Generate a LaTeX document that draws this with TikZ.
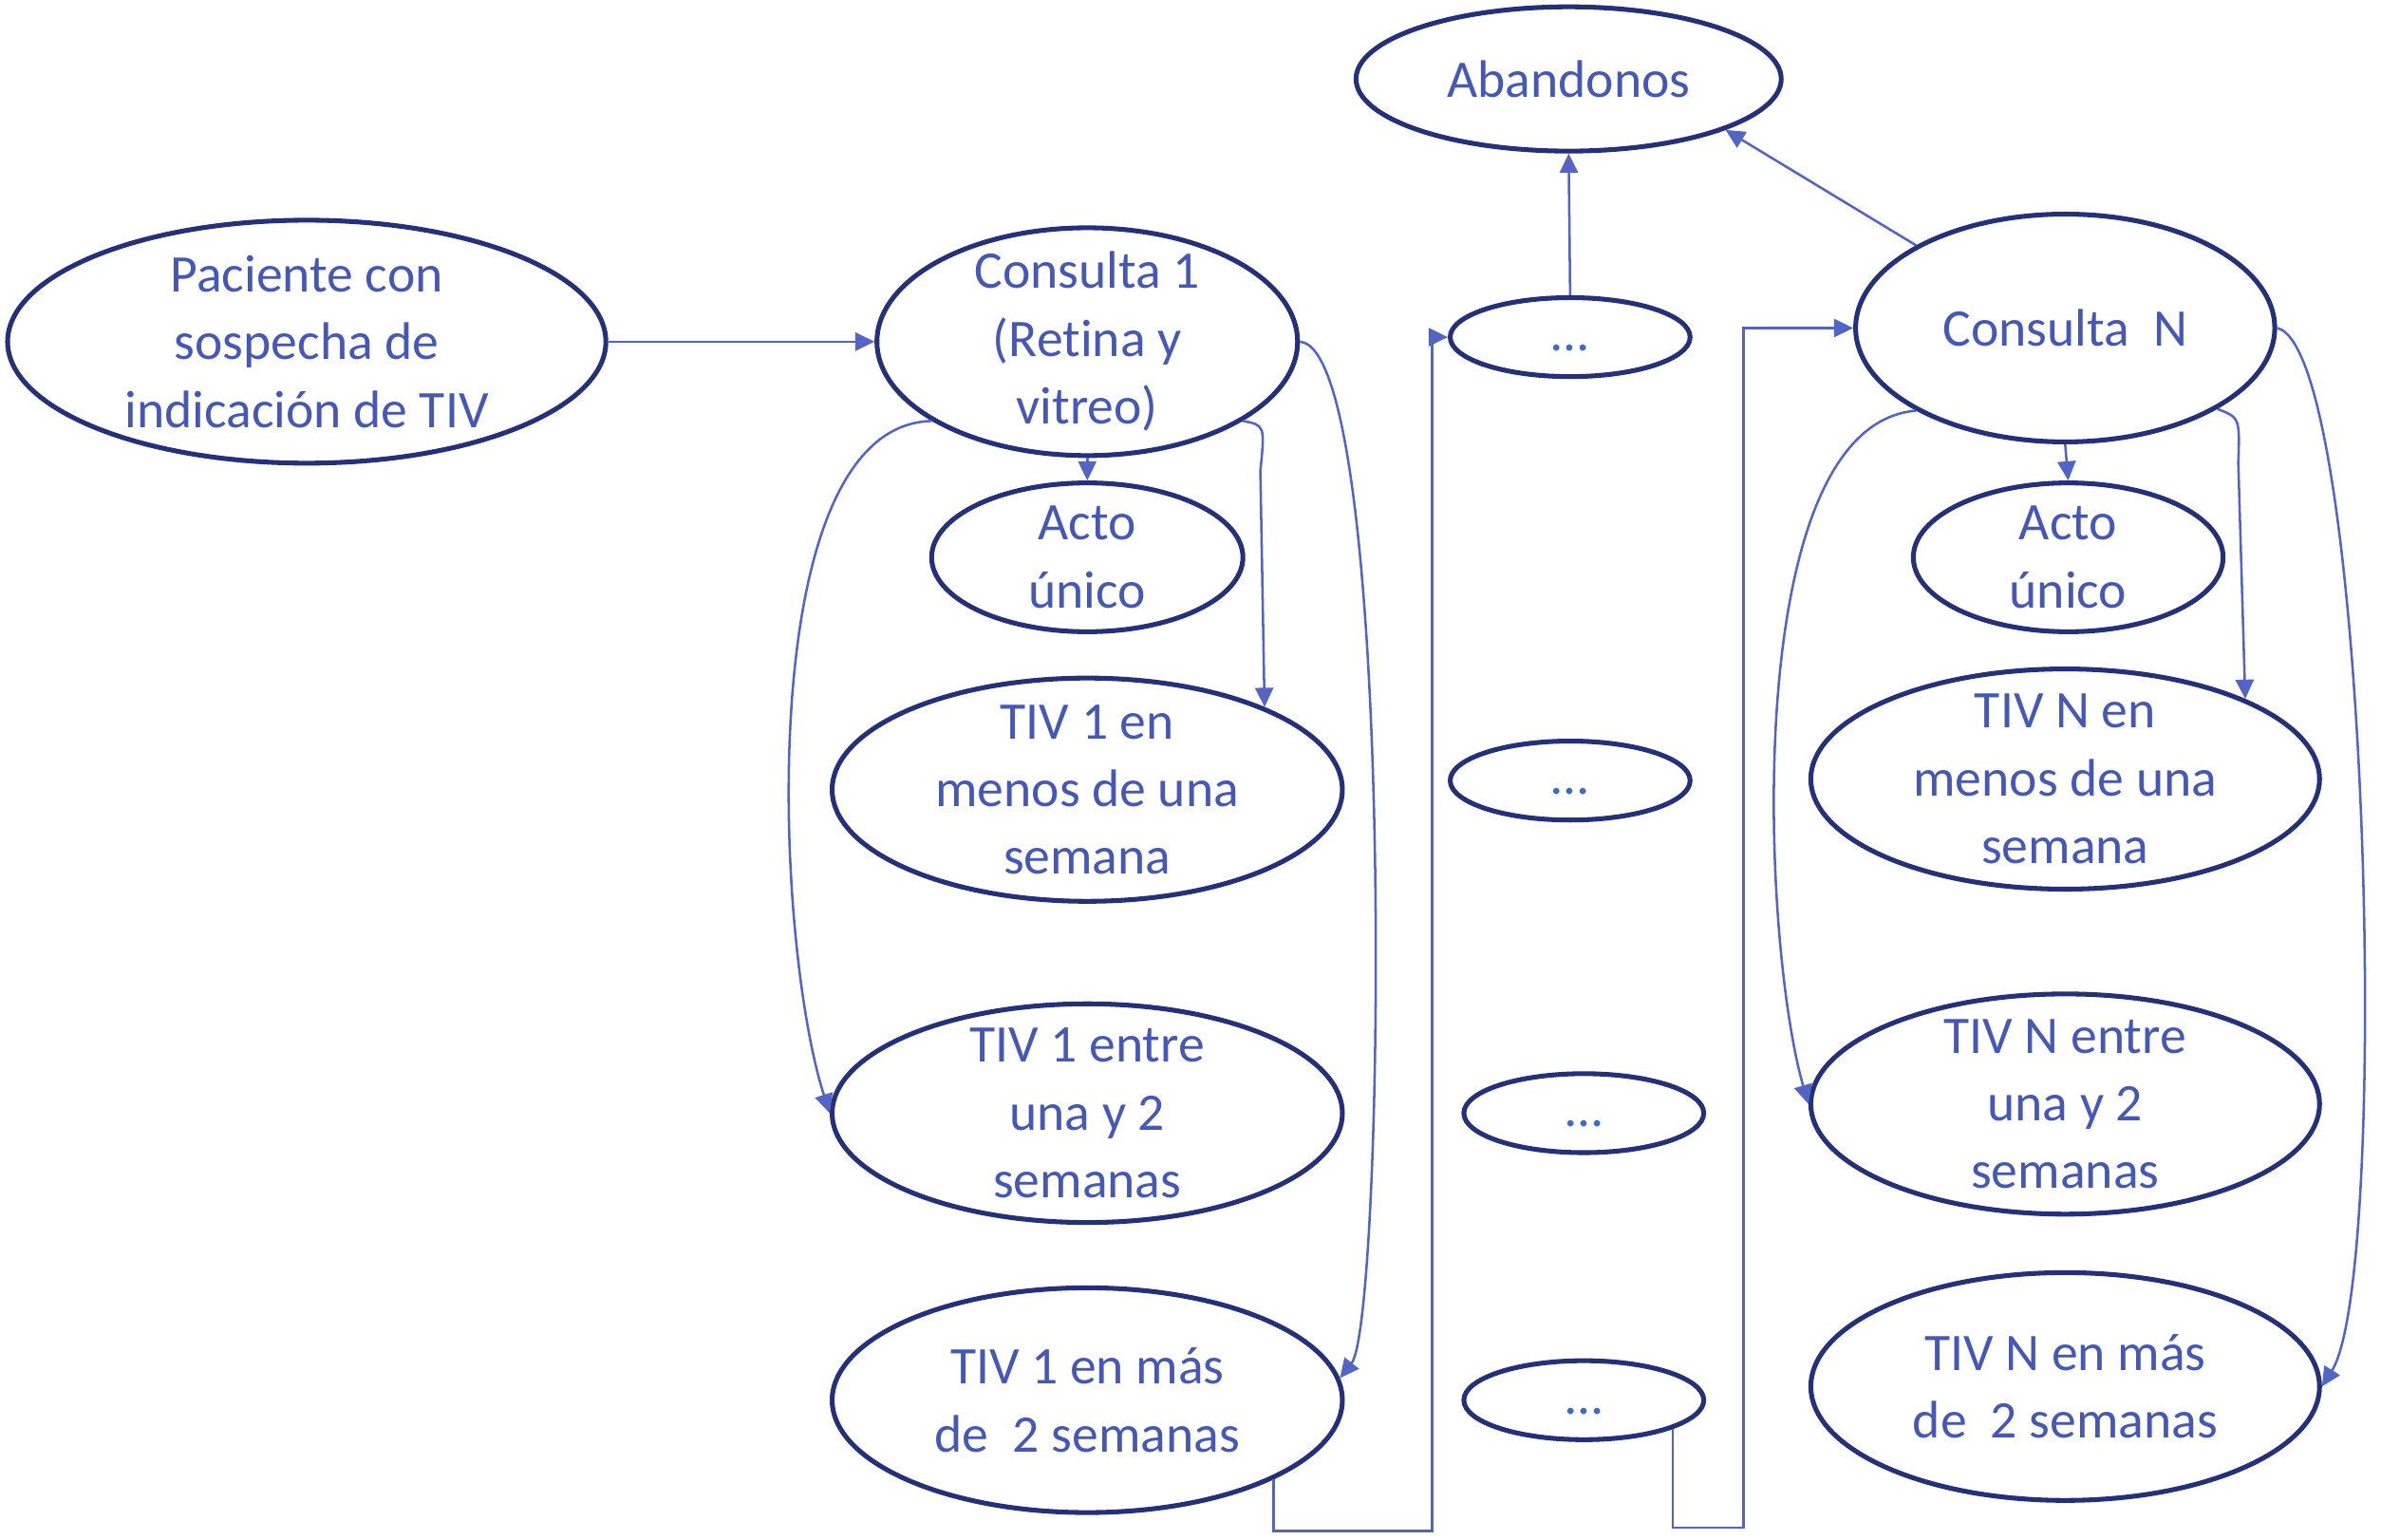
\documentclass[tikz,border=0pt]{standalone}
\usepackage{fontspec}
\setmainfont{Carlito}[Ligatures=NoCommon]
\usepackage{tikz}
\usetikzlibrary{
  arrows.meta,
  shapes.geometric
}
\definecolor{edgecol}{HTML}{25307A}
\definecolor{txtcol}{HTML}{4558B8}
\definecolor{linkcol}{HTML}{5264C6}
\definecolor{dotcol}{HTML}{3D6CC0}

\begin{document}
\begin{tikzpicture}[
  bubble/.style={ellipse, draw=edgecol, line width=0.9pt, inner sep=0pt},
  txt/.style={font=\fontsize{9.9pt}{12.7pt}\selectfont, text=txtcol, align=center, inner sep=0pt},
  dotbub/.style={bubble, minimum width=1.58cm, minimum height=0.52cm,
               label={[txt, text=dotcol]center:{\strut…}}},
  arrow/.style={draw=linkcol, line width=0.45pt, -{Triangle[length=3.6pt, width=3.4pt]}},
]
  \useasboundingbox (0,0) rectangle (15.68,-10.14);

  \node[bubble, minimum width=3.94cm, minimum height=1.60cm,
    label={[txt]center:{Paciente con\\sospecha de\\indicación de TIV}}] (pac) at (2.02,-2.25) {};

  % primera consulta
  \node[bubble, minimum width=2.77cm, minimum height=1.50cm,
    label={[txt]center:{Consulta 1\\(Retina y\\vitreo)}}] (cons1) at (7.16,-2.25) {};
  \node[bubble, minimum width=2.05cm, minimum height=0.98cm,
    label={[txt]center:{Acto\\único}}] (acto1) at (7.16,-3.67) {};
  \node[bubble, minimum width=3.36cm, minimum height=1.47cm,
    label={[txt]center:{TIV 1 en\\menos de una\\semana}}] (menos1) at (7.16,-5.20) {};
  \node[bubble, minimum width=3.36cm, minimum height=1.44cm,
    label={[txt]center:{TIV 1 entre\\una y 2\\semanas}}] (entre1) at (7.16,-7.33) {};
  \node[bubble, minimum width=3.36cm, minimum height=1.48cm,
    label={[txt]center:{TIV 1 en más\\de\ \ 2 semanas}}] (mas1) at (7.16,-9.22) {};

  % columna intermedia
  \node[bubble, minimum width=2.80cm, minimum height=0.95cm,
    label={[txt]center:Abandonos}] (aband) at (10.33,-0.52) {};
  \node[dotbub] (dots1) at (10.34,-2.22) {};
  \node[dotbub] (dots2) at (10.34,-5.14) {};
  \node[dotbub] (dots3) at (10.43,-7.33) {};
  \node[dotbub] (dots4) at (10.43,-9.22) {};

  % consulta N
  \node[bubble, minimum width=2.76cm, minimum height=1.50cm,
    label={[txt]center:{Consulta\ \ N}}] (consN) at (13.60,-2.16) {};
  \node[bubble, minimum width=2.04cm, minimum height=0.98cm,
    label={[txt]center:{Acto\\único}}] (actoN) at (13.62,-3.67) {};
  \node[bubble, minimum width=3.35cm, minimum height=1.45cm,
    label={[txt]center:{TIV N en\\menos de una\\semana}}] (menosN) at (13.60,-5.13) {};
  \node[bubble, minimum width=3.35cm, minimum height=1.45cm,
    label={[txt]center:{TIV N entre\\una y 2\\semanas}}] (entreN) at (13.60,-7.27) {};
  \node[bubble, minimum width=3.35cm, minimum height=1.50cm,
    label={[txt]center:{TIV N en más\\de\ \ 2 semanas}}] (masN) at (13.60,-9.13) {};

  \coordinate (turnA) at (9.43,-10.08);
  \coordinate (turnB) at (11.48,-10.06);

  \draw[arrow] (pac.east) -- (cons1.west);
  \draw[arrow] (cons1.south) -- (acto1.north);
  \draw[arrow] (cons1.207) .. controls (4.95,-2.80) and (5.10,-6.20) .. (entre1.west);
  \draw[arrow] (cons1.333) .. controls (8.33,-2.80) .. (8.30,-3.10) -- (menos1.25);
  \draw[arrow] (cons1.east) .. controls (9.20,-2.30) and (9.12,-8.70) .. (mas1.5);
  \draw[arrow] (mas1.337) |- (turnA) |- (dots1.west);

  \draw[arrow] (dots1.north) -- (aband.south);
  \draw[arrow] (consN.151) -- (aband.342);
  \draw[arrow] (dots4.342) |- (turnB) |- (consN.west);

  \draw[arrow] (consN.south) -- (actoN.north);
  \draw[arrow] (consN.209) .. controls (11.45,-2.80) and (11.60,-6.20) .. (entreN.west);
  \draw[arrow] (consN.332) .. controls (14.75,-2.75) .. (14.74,-3.05) -- (menosN.24);
  \draw[arrow] (consN.east) .. controls (15.60,-2.30) and (15.75,-8.40) .. (masN.east);
\end{tikzpicture}
\end{document}
